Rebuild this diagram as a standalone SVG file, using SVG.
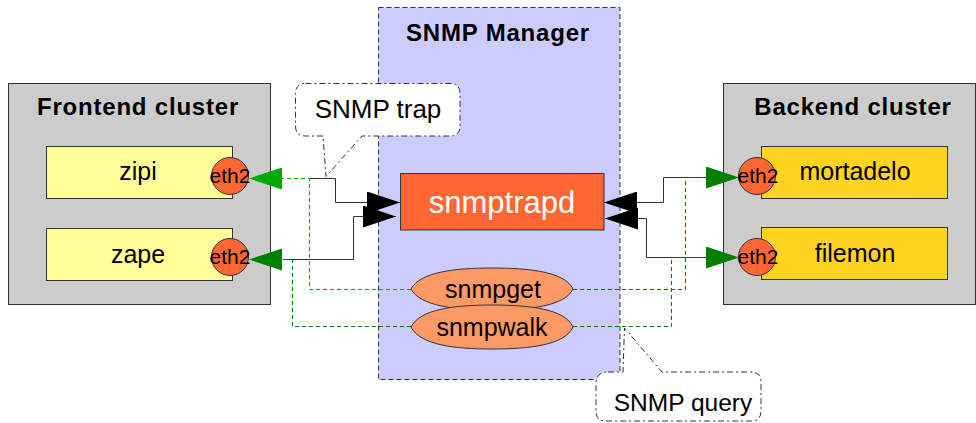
<svg xmlns="http://www.w3.org/2000/svg" width="976" height="423" viewBox="0 0 976 423">
  <style>
    .cluster { fill: #cccccc; stroke: #333333; stroke-width: 1; }
    .title { font-family: "Liberation Sans", Arial, sans-serif; font-weight: bold; font-size: 24px; letter-spacing: 0.8px; fill: #000000; text-anchor: middle; }
    .label { font-family: "Liberation Sans", Arial, sans-serif; font-size: 25px; fill: #000000; text-anchor: middle; }
    .front { fill: #ffff99; stroke: #333333; stroke-width: 1; }
    .back { fill: #ffd320; stroke: #333333; stroke-width: 1; }
    .nic { fill: #ff6633; stroke: #333333; stroke-width: 1; }
    .nictext { font-family: "Liberation Sans", Arial, sans-serif; font-size: 21px; fill: #000000; text-anchor: middle; }
    .manager { fill: #ccccff; stroke: #333333; stroke-width: 1; stroke-dasharray: 5 3; }
    .daemon { fill: #ff6633; stroke: #333333; stroke-width: 1; }
    .tool { fill: #ff9966; stroke: #333333; stroke-width: 1; }
    .callout { fill: #ffffff; stroke: #333333; stroke-width: 1; stroke-dasharray: 6 3 2 3; }
    .trap { fill: none; stroke: #333333; stroke-width: 1; marker-end: url(#arrowBlack); }
    .query { fill: none; stroke-width: 1; stroke-dasharray: 4 3; }
  </style>
  <defs>
    <marker id="arrowBlack" viewBox="0 0 33 22" refX="33" refY="11" markerWidth="33" markerHeight="22" markerUnits="userSpaceOnUse" orient="auto">
      <path d="M0,0 L33,11 L0,22 Z" fill="#000000"/>
    </marker>
    <marker id="arrowGreen" viewBox="0 0 33 22" refX="33" refY="11" markerWidth="33" markerHeight="22" markerUnits="userSpaceOnUse" orient="auto">
      <path d="M0,0 L33,11 L0,22 Z" fill="#008000"/>
    </marker>
    <marker id="arrowLightGreen" viewBox="0 0 33 22" refX="33" refY="11" markerWidth="33" markerHeight="22" markerUnits="userSpaceOnUse" orient="auto">
      <path d="M0,0 L33,11 L0,22 Z" fill="#00aa00"/>
    </marker>
  </defs>

  <!-- Frontend cluster -->
  <g id="frontend-cluster">
    <rect class="cluster" x="8.5" y="83.5" width="262" height="221"/>
    <text class="title" x="138" y="115">Frontend cluster</text>
  </g>
  <g id="zipi">
    <rect class="front" x="46.5" y="146.5" width="186" height="52"/>
    <text class="label" x="138" y="180">zipi</text>
    <circle class="nic" cx="230" cy="176" r="18.5"/>
    <text class="nictext" x="230" y="182.5">eth2</text>
  </g>
  <g id="zape">
    <rect class="front" x="46.5" y="228.5" width="186" height="52"/>
    <text class="label" x="138" y="263">zape</text>
    <circle class="nic" cx="230" cy="257" r="18.5"/>
    <text class="nictext" x="230" y="263.5">eth2</text>
  </g>

  <!-- Backend cluster -->
  <g id="backend-cluster">
    <rect class="cluster" x="723.5" y="83.5" width="252" height="221"/>
    <text class="title" x="853" y="115">Backend cluster</text>
  </g>
  <g id="mortadelo">
    <rect class="back" x="761.5" y="146.5" width="186" height="52"/>
    <text class="label" x="855" y="180">mortadelo</text>
    <circle class="nic" cx="757" cy="176" r="18.5"/>
    <text class="nictext" x="758" y="182.5">eth2</text>
  </g>
  <g id="filemon">
    <rect class="back" x="761.5" y="227.5" width="186" height="52"/>
    <text class="label" x="855" y="262">filemon</text>
    <circle class="nic" cx="757" cy="257" r="18.5"/>
    <text class="nictext" x="758" y="263.5">eth2</text>
  </g>

  <!-- SNMP manager host -->
  <g id="snmp-manager">
    <rect class="manager" x="378.5" y="7.5" width="241.5" height="372"/>
    <text class="title" x="498" y="41">SNMP Manager</text>
  </g>
  <g id="snmptrapd">
    <rect class="daemon" x="400.5" y="173.5" width="203.5" height="56.5"/>
    <text class="label" x="502" y="213" style="font-size:31px; fill:#ffffff">snmptrapd</text>
  </g>

  <!-- Connectors -->
  <g id="connectors">
    <!-- traps: agents to snmptrapd -->
    <path class="trap" d="M309,178.5 H335.5 V202.5 H400"/>
    <path class="trap" d="M283,259.5 H353.5 V216.5 H396"/>
    <path class="trap" d="M706,177.5 H663.5 V202.5 H604"/>
    <path class="trap" d="M706,257.5 H646.5 V218.5 H605"/>
    <!-- queries: snmpget / snmpwalk to agents -->
    <path class="query" stroke="#00aa00" marker-end="url(#arrowLightGreen)" d="M411,289.5 H309.5 V178.5 H249"/>
    <path class="query" stroke="#008000" marker-end="url(#arrowGreen)" d="M411,326.5 H292.5 V259.5 H249"/>
    <path class="query" stroke="#008000" marker-end="url(#arrowGreen)" d="M573,289.5 H685.5 V177.5 H739"/>
    <path class="query" stroke="#008000" marker-end="url(#arrowGreen)" d="M573,326.5 H671.5 V257.5 H739"/>
  </g>

  <!-- query tools -->
  <g id="snmpget">
    <path class="tool" d="M411,289 C420,272 455,268 492,268 C530,268 565,272 573,289 C565,306 530,310 492,310 C455,310 420,306 411,289 Z"/>
    <text class="label" x="493" y="298">snmpget</text>
  </g>
  <g id="snmpwalk">
    <path class="tool" d="M411,327 C420,309 455,305 492,305 C530,305 565,309 573,327 C565,345 530,349 492,349 C455,349 420,345 411,327 Z"/>
    <text class="label" x="492" y="336">snmpwalk</text>
  </g>

  <!-- callouts -->
  <g id="callout-trap">
    <path class="callout" d="M305.5,83.5 H450 Q460,83.5 460,93.5 V126 Q460,136 450,136 H362 L326,176.5 L323,136 H305.5 Q295.5,136 295.5,126 V93.5 Q295.5,83.5 305.5,83.5 Z"/>
    <text class="label" x="378" y="118" style="font-size:26px">SNMP trap</text>
  </g>
  <g id="callout-query">
    <path class="callout" d="M608,372 H623 L624.5,328 L662,372 H751 Q761,372 761,382 V411 Q761,421 751,421 H606 Q596,421 596,411 V384 Q596,372 608,372 Z"/>
    <text class="label" x="683" y="411" style="font-size:24.5px">SNMP query</text>
  </g>
</svg>
